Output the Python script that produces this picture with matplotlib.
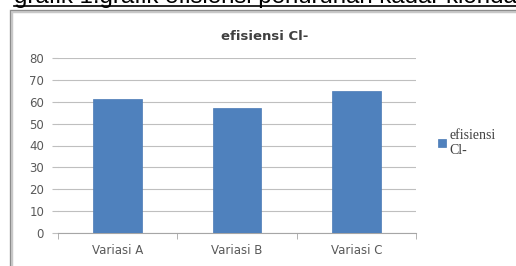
import matplotlib.pyplot as plt
from matplotlib.patches import Rectangle
from matplotlib.lines import Line2D
import numpy as np

# Chart data
categories = ['Variasi A', 'Variasi B', 'Variasi C']
efisiensi = [61.3, 57.2, 64.8]
yticks = [0, 10, 20, 30, 40, 50, 60, 70, 80]

W, H = 516, 266
fig = plt.figure(figsize=(W / 100, H / 100), dpi=100)
fig.patch.set_facecolor('white')

def fx(px):
    return px / W

def fy(py):
    return 1 - py / H

# Heading (partly cut off at the top, underlined)
fig.text(fx(14), fy(3.5), 'grafik 1.grafik efisiensi penurunan kadar klorida',
         fontsize=17.3, family='Liberation Sans', va='baseline', ha='left', color='black')
fig.add_artist(Line2D([fx(14), fx(516)], [fy(6), fy(6)], color='black', lw=1.2,
                      transform=fig.transFigure))

# Chart frame with a soft shadow
fig.add_artist(Rectangle((fx(11), fy(300)), fx(600), fy(11) - fy(300), transform=fig.transFigure,
                         fill=False, edgecolor='#c8c8c8', lw=2.5))
fig.add_artist(Rectangle((fx(10), fy(300)), fx(600), fy(10) - fy(300), transform=fig.transFigure,
                         fill=False, edgecolor='#8c8c8c', lw=0.8))

ax = fig.add_axes([fx(58), fy(233), fx(416) - fx(58), fy(58) - fy(233)])
x = np.arange(len(categories))
bars = ax.bar(x, efisiensi, width=0.41, color='#4f81bd', edgecolor='#4a7ab5', lw=0.5,
              label='efisiensi\nCl-', zorder=3)

ax.set_xlim(-0.5, 2.5)
ax.set_ylim(0, 80)
ax.set_yticks(yticks)
ax.yaxis.grid(True, color='#bfbfbf', lw=0.8, zorder=0)
for s in ['top', 'right', 'left']:
    ax.spines[s].set_visible(False)
ax.spines['bottom'].set_color('#a6a6a6')
ax.tick_params(axis='y', length=4, color='#bfbfbf', labelsize=8.5, labelcolor='#595959', pad=6)
ax.set_xticks(x)
ax.set_xticklabels(categories)
ax.tick_params(axis='x', length=0, labelsize=8.5, labelcolor='#595959', pad=8)
ax.set_xticks([-0.5, 0.5, 1.5, 2.5], minor=True)
ax.tick_params(axis='x', which='minor', length=4, color='#a6a6a6')

ax.set_title('efisiensi Cl-', fontsize=9.5, fontweight='bold', color='#404040', pad=13,
             x=(fx(265) - fx(58)) / (fx(416) - fx(58)))

leg = fig.legend(handles=[bars], labels=['efisiensi\nCl-'], loc='upper left',
                 bbox_to_anchor=(fx(438), fy(129)), frameon=False,
                 prop={'family': 'Liberation Serif', 'size': 10},
                 handlelength=0.55, handleheight=0.55, handletextpad=0.25,
                 borderaxespad=0, borderpad=0)
for t in leg.get_texts():
    t.set_color('#404040')

fig.savefig('out.png', dpi=100)
